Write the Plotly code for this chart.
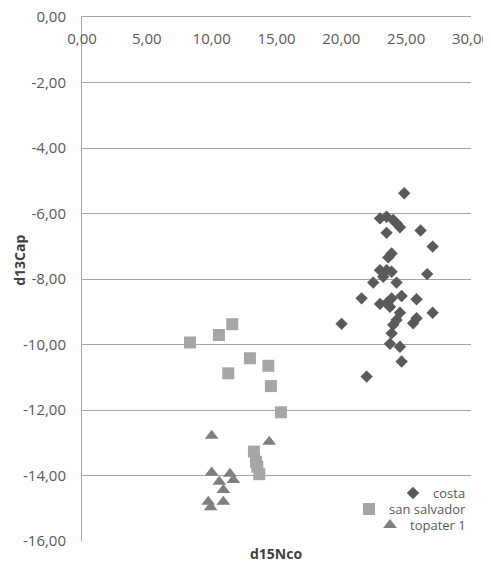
import plotly.graph_objects as go

# ---- data ----
costa_x = [24.85, 22.98, 23.49, 24.00, 24.26, 24.52, 23.49, 26.11, 27.04, 23.88,
           23.62, 22.98, 23.49, 23.88, 23.23, 22.46, 26.62, 24.26, 21.56, 22.98,
           23.49, 23.88, 23.75, 24.65, 25.80, 27.04, 20.02, 24.52, 24.26, 24.00,
           23.88, 25.80, 25.54, 23.75, 24.52, 24.65, 21.95]
costa_y = [-5.38, -6.15, -6.10, -6.20, -6.30, -6.42, -6.59, -6.52, -7.01, -7.22,
           -7.34, -7.73, -7.73, -7.78, -7.93, -8.11, -7.85, -8.11, -8.59, -8.76,
           -8.74, -8.59, -8.85, -8.52, -8.62, -9.03, -9.37, -9.03, -9.25, -9.40,
           -9.66, -9.20, -9.35, -9.98, -10.07, -10.52, -10.98]

sansalvador_x = [8.33, 10.56, 11.59, 12.95, 14.37, 11.28, 14.57, 15.34, 13.26, 13.42, 13.52, 13.67]
sansalvador_y = [-9.94, -9.71, -9.38, -10.42, -10.65, -10.88, -11.27, -12.07, -13.27, -13.58, -13.73, -13.96]

topater_x = [10.00, 14.44, 10.00, 11.41, 11.67, 10.59, 10.90, 10.90, 9.74, 9.92]
topater_y = [-12.79, -12.97, -13.91, -13.95, -14.14, -14.19, -14.44, -14.80, -14.80, -14.97]

series_names = ["costa", "san salvador", "topater 1"]

x_tickvals = [0, 5, 10, 15, 20, 25, 30]
x_ticktext = ["0,00", "5,00", "10,00", "15,00", "20,00", "25,00", "30,00"]
y_tickvals = [0, -2, -4, -6, -8, -10, -12, -14, -16]
y_ticktext = ["0,00", "-2,00", "-4,00", "-6,00", "-8,00", "-10,00", "-12,00", "-14,00", "-16,00"]

x_title = "d15Nco"
y_title = "d13Cap"

# ---- figure ----
FONT = "Open Sans"
TXT = "#595959"
GRID = "#a6a6a6"

fig = go.Figure()
fig.add_trace(go.Scatter(x=costa_x, y=costa_y, mode="markers", name=series_names[0],
                         marker=dict(symbol="diamond", size=9.5, color="#5a5a5a"),
                         legend="legend"))
fig.add_trace(go.Scatter(x=sansalvador_x, y=sansalvador_y, mode="markers", name=series_names[1],
                         marker=dict(symbol="square", size=12, color="#a6a6a6"),
                         legend="legend2"))
fig.add_trace(go.Scatter(x=topater_x, y=topater_y, mode="markers", name=series_names[2],
                         marker=dict(symbol="triangle-up", size=12, color="#7f7f7f"),
                         legend="legend3"))

leg_common = dict(xref="paper", yref="paper", x=1.0, xanchor="right", yanchor="middle",
                  bgcolor="rgba(0,0,0,0)", borderwidth=0,
                  font=dict(family=FONT, size=13, color=TXT),
                  itemwidth=30)

# page body has an 8px default margin, so the figure is shrunk by 8px
fig.update_layout(
    width=483, height=553, autosize=False,
    margin=dict(l=74, r=20, t=9, b=20, autoexpand=False),
    paper_bgcolor="white", plot_bgcolor="white",
    font=dict(family=FONT, size=15, color=TXT),
    showlegend=True,
    legend=dict(y=0.0916, **leg_common),
    legend2=dict(y=0.061, **leg_common),
    legend3=dict(y=0.0305, **leg_common),
    xaxis=dict(range=[0, 30], side="top", tickvals=x_tickvals, ticktext=x_ticktext,
               ticklabelposition="inside", ticklabelstandoff=16,
               ticklabeloverflow="allow", automargin=False,
               showgrid=False, zeroline=False, showline=True, linecolor=GRID, linewidth=1,
               ticks="", tickfont=dict(family=FONT, size=15, color=TXT)),
    yaxis=dict(range=[-16, 0], tickvals=y_tickvals, ticktext=y_ticktext,
               showgrid=True, gridcolor=GRID, gridwidth=1,
               zeroline=True, zerolinecolor=GRID, zerolinewidth=1,
               showline=True, linecolor=GRID, linewidth=1, ticks="",
               ticklabelstandoff=12, ticklabeloverflow="allow", automargin=False,
               tickfont=dict(family=FONT, size=15, color=TXT)),
    annotations=[
        dict(text=f"<b>{x_title}</b>", xref="paper", yref="paper", x=0.499, y=-0.024,
             xanchor="center", yanchor="middle", showarrow=False,
             font=dict(family=FONT, size=14, color="#404040")),
        dict(text=f"<b>{y_title}</b>", xref="paper", yref="paper", x=-0.159, y=0.535,
             xanchor="center", yanchor="middle", showarrow=False, textangle=-90,
             font=dict(family=FONT, size=14, color="#404040")),
    ],
)

fig.write_html("out.html")
